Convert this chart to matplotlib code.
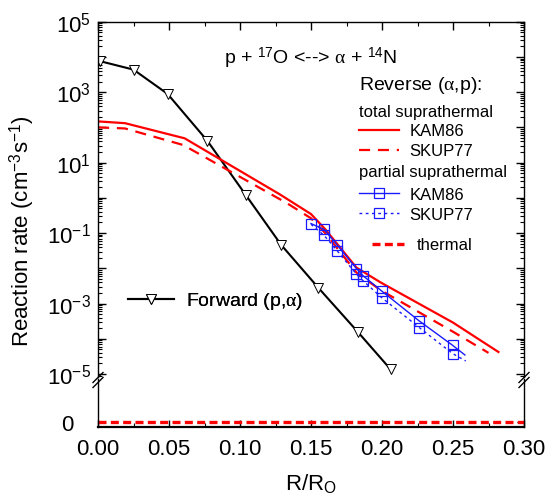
import numpy as np
import matplotlib
matplotlib.use("Agg")
import matplotlib.pyplot as plt
from matplotlib.lines import Line2D
from matplotlib.ticker import FixedLocator, LogLocator, FuncFormatter, MultipleLocator, NullFormatter

plt.rcParams['font.family'] = ['Liberation Sans', 'DejaVu Sans']
plt.rcParams['mathtext.fontset'] = 'custom'
plt.rcParams['mathtext.rm'] = 'Liberation Sans'
plt.rcParams['mathtext.it'] = 'Liberation Serif'
plt.rcParams['mathtext.bf'] = 'Liberation Sans:bold'

# ---------------- data (log10 of reaction rate) -----------
forward_x = [0.0014, 0.025, 0.049, 0.077, 0.104, 0.129, 0.155, 0.183, 0.206]
forward_log = [3.88, 3.64, 2.95, 1.62, 0.085, -1.335, -2.545, -3.807, -4.866]

kam_total_x = [0.0, 0.019, 0.061, 0.128, 0.150, 0.160, 0.182, 0.199, 0.250, 0.282]
kam_total_log = [2.17, 2.12, 1.69, 0.10, -0.46, -0.89, -1.98, -2.40, -3.54, -4.375]

skup_total_x = [0.0, 0.019, 0.060, 0.133, 0.150, 0.160, 0.182, 0.199, 0.250, 0.275]
skup_total_log = [2.00, 1.97, 1.50, -0.15, -0.58, -1.00, -2.12, -2.62, -3.80, -4.40]

kam_partial_x = [0.150, 0.1593, 0.1685, 0.182, 0.1868, 0.1997, 0.2262, 0.2497, 0.2584]
kam_partial_log = [-0.73, -0.898, -1.344, -2.006, -2.216, -2.642, -3.494, -4.185, -4.46]

skup_partial_x = [0.150, 0.1593, 0.1685, 0.182, 0.1868, 0.1997, 0.2262, 0.2497, 0.259]
skup_partial_log = [-0.75, -1.068, -1.506, -2.168, -2.358, -2.83, -3.68, -4.42, -4.63]

thermal_x = [0.0, 0.30]
thermal_y = [0.0, 0.0]

x_ticks = [0.00, 0.05, 0.10, 0.15, 0.20, 0.25, 0.30]

# ---------------- layout ----------------
W, H = 548, 502
fig = plt.figure(figsize=(W / 100, H / 100), dpi=100)

def fx(x):
    return x / W

def fy(y):
    return 1 - y / H

x0, x1 = 98, 524
ytop, ybrk = 22.7, 378
ax = fig.add_axes([fx(x0), fy(ybrk), fx(x1 - x0), (ybrk - ytop) / H])
axb = fig.add_axes([fx(x0), fy(428), fx(x1 - x0), (428 - 380) / H])

blue = '#1a1aff'
red = '#ff0000'

ax.plot(forward_x, 10 ** np.array(forward_log), color='black', lw=1.5,
        marker='v', ms=7, mfc='white', mec='black', mew=0.7)
ax.plot(kam_total_x, 10 ** np.array(kam_total_log), color=red, lw=1.6)
ax.plot(skup_total_x, 10 ** np.array(skup_total_log), color=red, lw=1.6,
        dashes=(5, 3.5))
ax.plot(kam_partial_x, 10 ** np.array(kam_partial_log), color=blue, lw=1.0,
        marker='s', ms=6.5, mfc='none', mec=blue, mew=0.9,
        markevery=list(range(len(kam_partial_x) - 1)))
ax.plot(skup_partial_x, 10 ** np.array(skup_partial_log), color=blue, lw=1.0,
        dashes=(2, 2.5), marker='s', ms=6.5, mfc='none', mec=blue, mew=0.9,
        markevery=list(range(1, len(skup_partial_x) - 1)))

axb.plot(thermal_x, thermal_y, color=red, lw=2.4, dashes=(2.4, 1.3))

ax.set_yscale('log')
ax.set_xlim(0, 0.30)
axb.set_xlim(0, 0.30)
ax.set_ylim(10 ** -5.085, 1e5)
axb.set_ylim(-1, 8.6)

# spines
ax.spines['bottom'].set_visible(False)
axb.spines['top'].set_visible(False)
for s in ['left', 'right', 'top']:
    ax.spines[s].set_linewidth(1.0)
for s in ['left', 'right']:
    axb.spines[s].set_linewidth(1.0)
axb.spines['bottom'].set_linewidth(1.6)

# ticks
ax.yaxis.set_major_locator(LogLocator(base=10, numticks=20))
ax.yaxis.set_minor_locator(LogLocator(base=10, subs=np.arange(2, 10), numticks=20))

def yfmt(v, pos):
    e = int(round(np.log10(v)))
    if e % 2 == 1 or e % 2 == -1:
        return '10$^{%d}$' % e
    return ''

ax.yaxis.set_major_formatter(FuncFormatter(yfmt))
ax.yaxis.set_minor_formatter(NullFormatter())
ax.xaxis.set_major_locator(FixedLocator(x_ticks))
ax.xaxis.set_minor_locator(MultipleLocator(0.025))
ax.tick_params(axis='both', which='both', direction='in', top=True, right=True,
               bottom=False, labelbottom=False, labelsize=16, pad=5)
ax.tick_params(which='major', length=6, width=1.0)
ax.tick_params(which='minor', length=3, width=0.8)

axb.xaxis.set_major_locator(FixedLocator(x_ticks))
axb.xaxis.set_minor_locator(MultipleLocator(0.025))
axb.xaxis.set_major_formatter(FuncFormatter(lambda v, p: '%.2f' % v))
axb.yaxis.set_major_locator(FixedLocator([0]))
axb.tick_params(axis='both', which='both', direction='in', top=False, right=True,
                labelsize=16)
axb.tick_params(which='major', length=5, width=1.0)
axb.tick_params(which='minor', length=3, width=0.8)
axb.tick_params(axis='x', pad=8)
axb.tick_params(axis='y', pad=18)

# break marks
for xb in (x0, x1):
    for dy in (-2.5, 2.5):
        fig.add_artist(Line2D([fx(xb - 5), fx(xb + 5)], [fy(381 + dy + 5), fy(381 + dy - 5)],
                              color='black', lw=1.0, transform=fig.transFigure))

# labels
fig.text(fx(22), fy(231), 'Reaction rate (cm$^{-3}$s$^{-1}$)', rotation=90,
         ha='center', va='center', fontsize=16)
fig.text(fx(311), fy(484), 'R/R$_{\\mathrm{O}}$', ha='center', va='center', fontsize=16)
fig.text(fx(311), fy(58), 'p + $^{17}$O <--> $\\alpha$ + $^{14}$N', ha='center',
         va='center', fontsize=14)

# legend block
fig.text(fx(359), fy(86), 'Reverse ($\\alpha$,p):', ha='left', va='center', fontsize=14)
fig.text(fx(359), fy(112), 'total suprathermal', ha='left', va='center', fontsize=12)
fig.text(fx(359), fy(173), 'partial suprathermal', ha='left', va='center', fontsize=12)

def one_legend(handle, label, xpx, ypx, hl, pad, fs):
    leg = ax.legend([handle], [label], loc='center left',
                    bbox_to_anchor=(fx(xpx), fy(ypx)), bbox_transform=fig.transFigure,
                    frameon=False, borderpad=0, borderaxespad=0, handlelength=hl,
                    handletextpad=pad, fontsize=fs)
    ax.add_artist(leg)

one_legend(Line2D([], [], color=red, lw=1.6), 'KAM86', 359, 132, 2.4, 0.62, 12)
one_legend(Line2D([], [], color=red, lw=1.6, dashes=(5, 3.5)), 'SKUP77', 359, 152, 2.4, 0.62, 12)
one_legend(Line2D([], [], color=blue, lw=1.0, marker='s', ms=6.5, mfc='none', mec=blue, mew=0.9),
           'KAM86', 359, 195, 2.4, 0.62, 12)
one_legend(Line2D([], [], color=blue, lw=1.0, dashes=(2, 2.5), marker='s', ms=6.5, mfc='none',
                  mec=blue, mew=0.9), 'SKUP77', 359, 215, 2.4, 0.62, 12)
one_legend(Line2D([], [], color=red, lw=2.4, dashes=(2.4, 1.3)), 'thermal', 372, 246, 1.9, 0.78, 12)
one_legend(Line2D([], [], color='black', lw=1.5, marker='v', ms=7, mfc='white', mec='black', mew=0.7),
           'Forward (p,$\\alpha$)', 128, 302, 2.35, 0.62, 14)

fig.savefig('out.png', dpi=100)
